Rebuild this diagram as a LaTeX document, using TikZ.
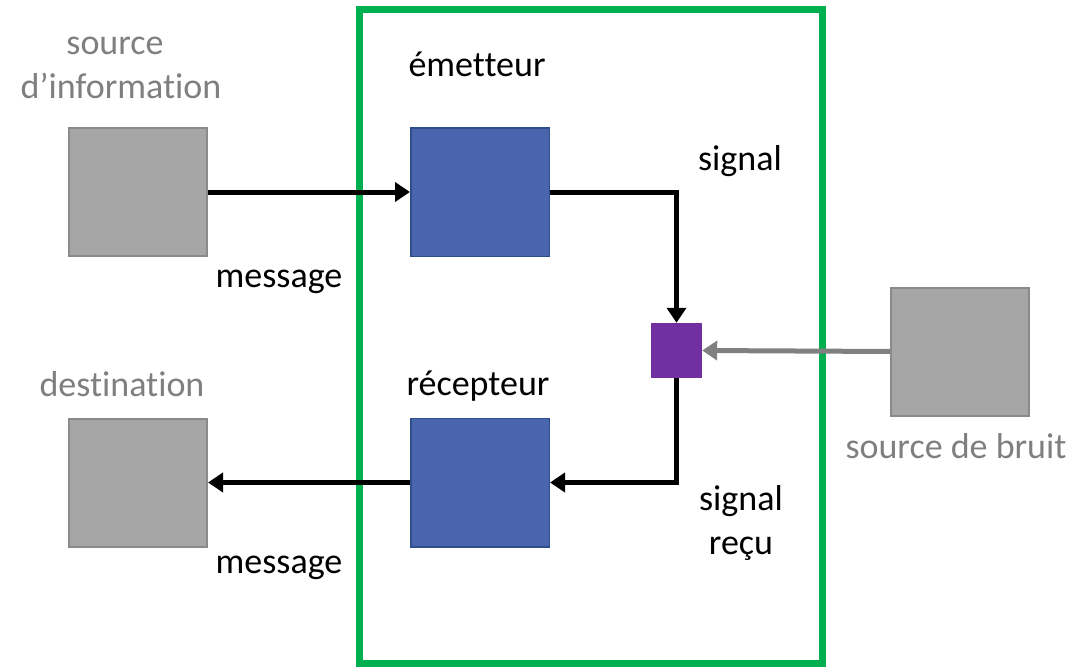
\documentclass[tikz,border=0pt]{standalone}
\usepackage{fontspec}
\setmainfont[Ligatures={NoCommon}]{Carlito}
\usetikzlibrary{arrows.meta}
\definecolor{boxgray}{HTML}{A6A6A6}
\definecolor{boxgrayline}{HTML}{8A8A8A}
\definecolor{txtgray}{HTML}{7F7F7F}
\definecolor{unitblue}{HTML}{4965AD}
\definecolor{unitblueline}{HTML}{2F4E8C}
\definecolor{mixpurple}{HTML}{7030A0}
\definecolor{framegreen}{HTML}{00B050}
\definecolor{noisegray}{HTML}{808080}
\tikzset{
  x=1pt, y=-1pt,
  graybox/.style={draw=boxgrayline, fill=boxgray, line width=2pt, minimum width=138pt, minimum height=128pt, inner sep=0pt},
  bluebox/.style={draw=unitblueline, fill=unitblue, line width=1.5pt, minimum width=138.5pt, minimum height=128.5pt, inner sep=0pt},
  mixbox/.style={fill=mixpurple, minimum width=51pt, minimum height=55pt, inner sep=0pt},
  lbl/.style={font=\fontsize{36}{44}\selectfont, inner sep=0pt, anchor=base},
  glbl/.style={lbl, text=txtgray},
  flow/.style={line width=5pt, -{Triangle[length=15pt,width=19pt]}},
  noise/.style={line width=5pt, draw=noisegray, -{Triangle[length=15pt,width=19pt]}, color=noisegray},
}
\begin{document}
\begin{tikzpicture}
\useasboundingbox (0,0) rectangle (1078,669);
% communication channel frame
\draw[framegreen, line width=7pt] (359,10) rectangle (822,663);

% blocks
\node[graybox]  (src)  at (138,192) {};
\node[bluebox]  (emit) at (480,192) {};
\node[mixbox]   (mix)  at (676.5,350.5) {};
\node[graybox]  (nse)  at (960,351.5) {};
\node[bluebox]  (recv) at (480,482.5) {};
\node[graybox]  (dst)  at (138,482.5) {};

% labels
\node[glbl] (t1) at (115,55) {source};
\node[glbl] (t2) at (121,98) {d’information};
\node[lbl]  (t3) at (477,76) {émetteur};
\node[lbl]  (t4) at (740,170) {signal};
\node[lbl]  (t5) at (279,287) {message};
\node[glbl] (t6) at (122,396) {destination};
\node[lbl]  (t7) at (478,395) {récepteur};
\node[glbl] (t8) at (956,458) {source de bruit};
\node[lbl]  (t9) at (741,510) {signal};
\node[lbl]  (t10) at (741,554) {reçu};
\node[lbl]  (t11) at (279,573) {message};

% connectors
\draw[flow] (src.east) -- (emit.west);
\draw[flow] (emit.east) -| (mix.north);
\draw[noise] (nse.west) -- (mix.east);
\draw[flow] (mix.south) |- (recv.east);
\draw[flow] (recv.west) -- (dst.east);
\end{tikzpicture}
\end{document}
